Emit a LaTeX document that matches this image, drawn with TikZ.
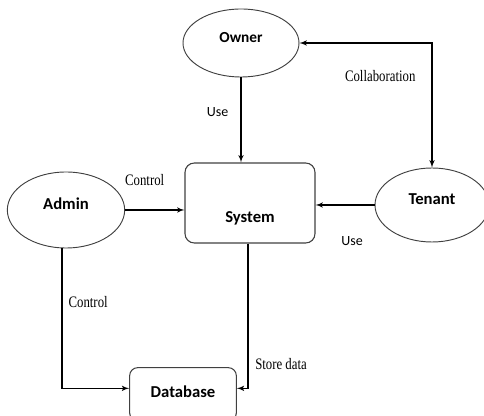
\documentclass[tikz,border=0pt]{standalone}
\usepackage{fontspec}
\setmainfont{Carlito}
\newfontfamily\lblfont[FakeStretch=0.8]{Liberation Serif}
\usetikzlibrary{shapes,arrows}
\tikzstyle{line} = [draw, line width=0.9pt, -latex']
\tikzstyle{block} = [rectangle, draw=black!75, line width=0.8pt, rounded corners=7pt, minimum width=97.5pt, minimum height=60pt, text height=32pt, text depth=3pt, font=\fontsize{12.5}{14}\selectfont\bfseries]
\tikzstyle{store} = [rectangle, draw=black!75, line width=0.8pt, rounded corners=6pt, minimum width=80pt, minimum height=40pt, font=\fontsize{12.5}{14}\selectfont\bfseries]
\tikzstyle{io} = [draw=black!75, ellipse, line width=0.7pt, text height=8pt, text depth=9pt, font=\fontsize{12.5}{14}\selectfont\bfseries]
\tikzstyle{tag} = [font=\lblfont\fontsize{12}{14}\selectfont, inner sep=0pt]
\tikzstyle{usetag} = [font=\fontsize{10.5}{12}\selectfont, inner sep=0pt]

\begin{document}
\begin{tikzpicture}
	\useasboundingbox (-187.5pt,152.25pt) rectangle (175.5pt,-159.75pt);
	\node [block] (system) {System};
	\node [io, above of=system, node distance=120pt, xshift=-6.75pt, minimum width=87pt, minimum height=51pt, font=\fontsize{11.5}{13}\selectfont\bfseries] (owner) {Owner};
	\node [io, right of=system, node distance=136.5pt, yshift=-1.5pt, minimum width=85.5pt, minimum height=55.5pt] (tenant) {Tenant};
	\node [io, left of=system, node distance=138pt, yshift=-5.25pt, minimum width=88pt, minimum height=57pt] (admin) {Admin};
	\node [store, below of=system, node distance=143.5pt, xshift=-50.25pt, text height=9pt, text depth=5pt] (database) {Database};
	\path [line] (owner) -- (owner |- system.north) node [usetag, pos=0.41, left=9pt] {Use};
	\path [line, latex'-latex'] (owner.east) -| (tenant.north) node [tag, pos=0.634, left=12pt] {Collaboration};
	\path [line] (admin) -- (admin -| system.west) node [tag, pos=0.33, above=18pt] {Control};
	\path [line] (tenant) -- (tenant -| system.east) node [usetag, pos=0.38, below=23pt] {Use};
	\path [line] ([xshift=-3pt]admin.south) |- ([yshift=4.5pt]database.west) node [tag, pos=0.19, right=4.5pt] {Control};
	\path [line] ([xshift=-1.5pt]system.south) |- ([yshift=4.5pt]database.east) node [tag, pos=0.417, right=5pt] {Store data};
\end{tikzpicture}
\end{document}
